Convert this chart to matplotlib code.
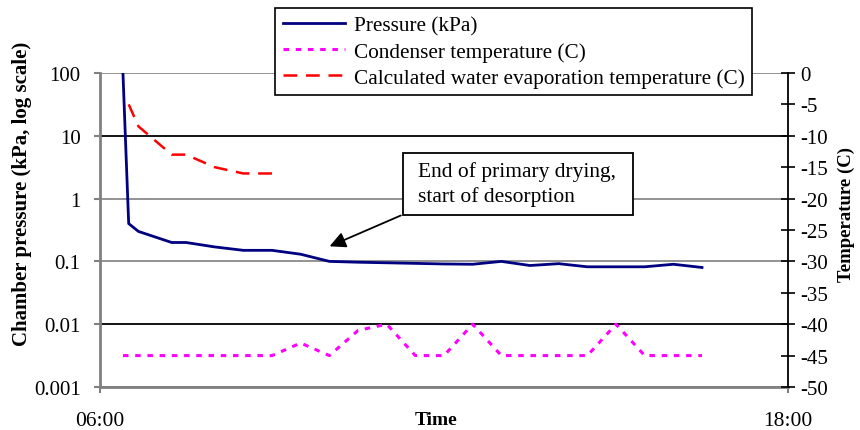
import matplotlib.pyplot as plt
from matplotlib.patches import Rectangle

plt.rcParams['font.family'] = ['Liberation Serif', 'DejaVu Serif']

# time of day in hours
p_time = [6.4, 6.5, 6.67, 7.25, 7.5, 8.0, 8.5, 9.0, 9.5, 10.0, 10.5, 11.0,
          11.5, 12.0, 12.5, 13.0, 13.5, 14.0, 14.5, 15.0, 15.5, 16.0, 16.5]
pressure = [100, 0.4, 0.3, 0.2, 0.2, 0.17, 0.15, 0.15, 0.13, 0.1, 0.097, 0.095,
            0.093, 0.091, 0.09, 0.1, 0.086, 0.092, 0.082, 0.082, 0.082, 0.09, 0.08]

c_time = [6.4, 7.0, 7.5, 8.0, 8.5, 9.0, 9.5, 10.0, 10.5, 11.0, 11.5, 12.0,
          12.5, 13.0, 13.5, 14.0, 14.5, 15.0, 15.5, 16.0, 16.5]
condenser = [-45, -45, -45, -45, -45, -45, -43, -45, -41, -40, -45, -45,
             -40, -45, -45, -45, -45, -40, -45, -45, -45]

e_time = [6.5, 6.67, 7.25, 7.5, 8.0, 8.5, 9.0]
evap = [-5, -8.5, -13, -13, -15, -16, -16]

x_ticks = [6, 18]
x_labels = ["06:00", "18:00"]
p_ticks = [0.001, 0.01, 0.1, 1, 10, 100]
p_labels = ["0.001", "0.01", "0.1", "1", "10", "100"]
t_ticks = [0, -5, -10, -15, -20, -25, -30, -35, -40, -45, -50]

fig = plt.figure(figsize=(8.6, 4.31), dpi=100)
ax = fig.add_axes([0.1163, 0.0998, 0.8, 0.7285])
ax2 = ax.twinx()

# left axis (log pressure)
ax.set_yscale('log')
ax.set_ylim(0.001, 100)
ax.set_xlim(6, 18)
ax.set_yticks(p_ticks)
ax.set_yticklabels(p_labels)
ax.minorticks_off()
ax.set_xticks(x_ticks)
ax.set_xticklabels(x_labels)
ax.tick_params(axis='y', direction='out', length=4, width=1.5, color='#808080',
               pad=10, labelsize=15)
ax.tick_params(axis='x', direction='out', length=4, width=1.5, color='#808080',
               pad=13.5, labelsize=15.5)
ax.grid(axis='y', color='#808080', linewidth=1.2)
for v in [10, 0.01]:
    ax.axhline(v, color='black', linewidth=1.2)
for s in ['top', 'right']:
    ax.spines[s].set_visible(False)
for s in ['left', 'bottom']:
    ax.spines[s].set_color('#808080')
    ax.spines[s].set_linewidth(2)
ax.set_ylabel("Chamber pressure (kPa, log scale)", fontsize=15, fontweight='bold')
ax.yaxis.set_label_coords(-0.099, 0.618)
ax.set_xlabel("Time", fontsize=14, fontweight='bold')
ax.xaxis.set_label_coords(0.488, -0.076)

# right axis (temperature)
ax2.set_ylim(-50, 0)
ax2.set_yticks(t_ticks)
ax2.set_yticklabels([str(t) for t in t_ticks])
ax2.tick_params(axis='y', direction='inout', length=10, width=1.2, color='black',
                pad=4, labelsize=15)
for s in ['top', 'left', 'bottom']:
    ax2.spines[s].set_visible(False)
ax2.spines['right'].set_color('black')
ax2.spines['right'].set_linewidth(1.3)
ax2.set_ylabel("Temperature (C)", fontsize=13.5, fontweight='bold')
ax2.yaxis.set_label_coords(1.0727, 0.551)

l1, = ax.plot(p_time, pressure, color='#000080', linewidth=2, label="Pressure (kPa)")
l2, = ax2.plot(c_time, condenser, color='#FF00FF', linewidth=2.2,
               linestyle=(0, (1.8, 2.2)), label="Condenser temperature (C)")
l3, = ax2.plot(e_time, evap, color='#FF0000', linewidth=1.8,
               linestyle=(0, (5.5, 3.5)), label="Calculated water evaporation temperature (C)")

# annotation box
box = Rectangle((0.440, 0.548), 0.334, 0.197, transform=ax2.transAxes,
                facecolor='white', edgecolor='black', linewidth=1.3, zorder=5)
ax2.add_patch(box)
ax2.text(0.462, 0.648, "End of primary drying,\nstart of desorption",
         transform=ax2.transAxes, ha='left', va='center', fontsize=15.5,
         linespacing=1.3, zorder=6)
ax.annotate("", xy=(9.96, 0.167), xytext=(11.29, 0.56),
            arrowprops=dict(arrowstyle='-|>', color='black', lw=1.3,
                            mutation_scale=24))

leg = fig.legend(handles=[l1, l2, l3], loc='upper left',
                 bbox_to_anchor=(0.320, 0.979), fontsize=15.3, frameon=True,
                 fancybox=False, edgecolor='black', framealpha=1,
                 handlelength=2.95, handletextpad=0.4, labelspacing=0.3,
                 borderpad=0.35, borderaxespad=0)
leg.get_frame().set_linewidth(1.2)

fig.savefig("out.png", dpi=100)
